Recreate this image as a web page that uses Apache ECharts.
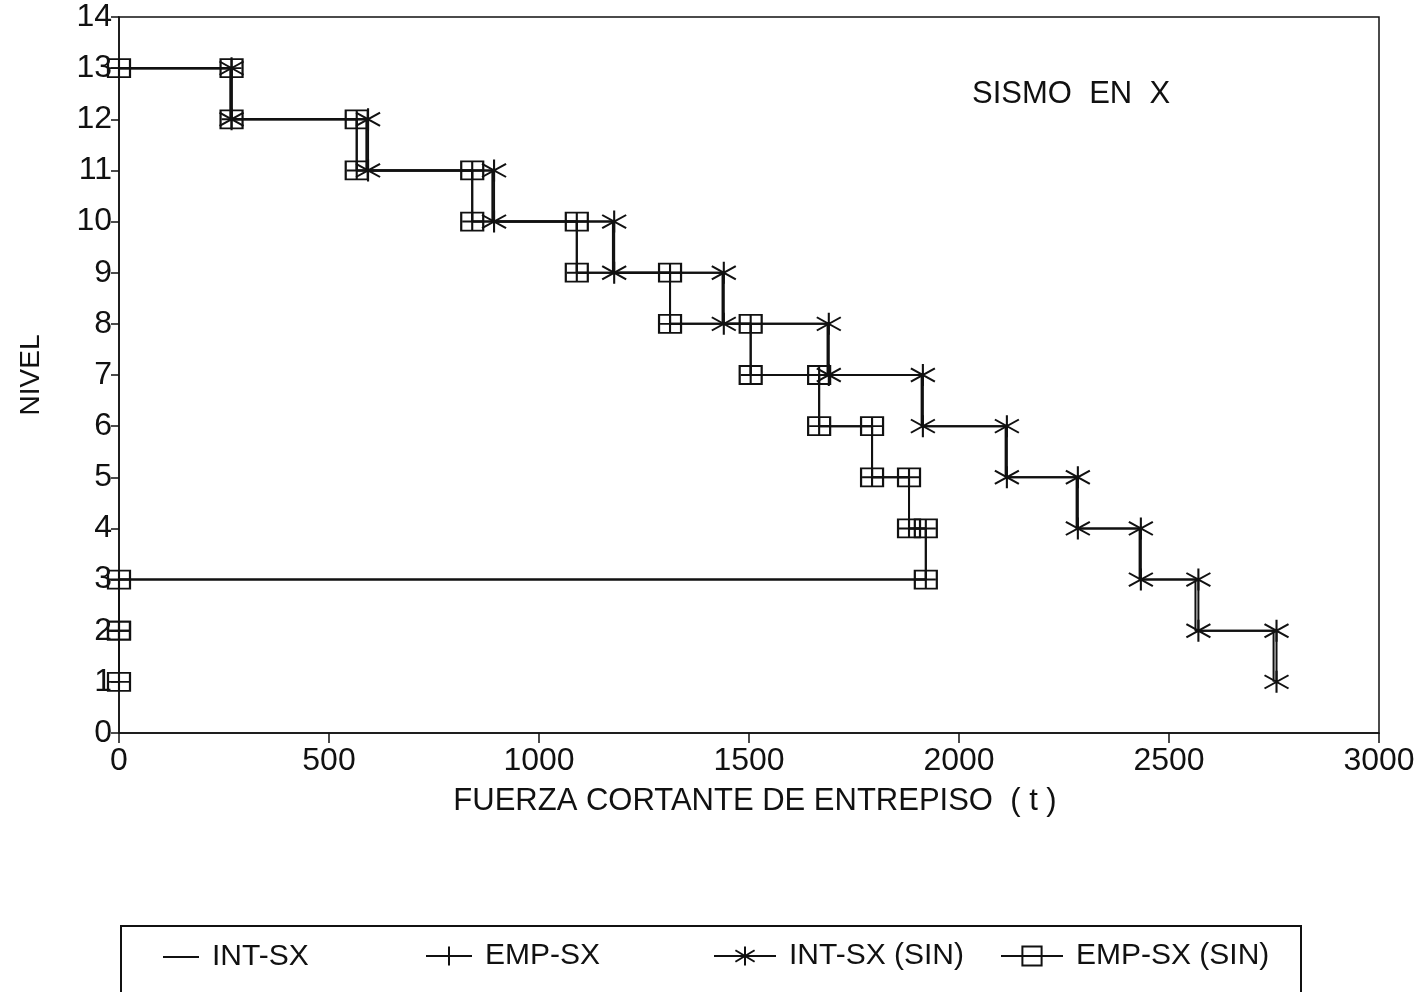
<!DOCTYPE html>
<html>
<head>
<meta charset="utf-8">
<script src="https://cdn.jsdelivr.net/npm/echarts@6/dist/echarts.min.js"></script>
<style>
html,body{margin:0;padding:0;background:#fff;}
#chart{width:1423px;height:992px;}
</style>
</head>
<body>
<div id="chart"></div>
<script>
// Storey top levels (each storey spans from level L down to L-1)
const levelTop = [13, 12, 11, 10, 9, 8, 7, 6, 5, 4, 3, 2];
// Storey shear force (t) per storey
const intSX    = [265, 589, 889, 1176, 1437, 1687, 1911, 2111, 2280, 2430, 2563, 2749];
const empSX    = [268, 566, 841, 1090, 1312, 1504, 1667, 1793, 1881, 1921, 0, 0];
const intSXSin = [268, 593, 893, 1179, 1440, 1690, 1914, 2114, 2283, 2433, 2570, 2756];
const empSXSin = [268, 566, 841, 1090, 1312, 1504, 1667, 1793, 1881, 1921, 0, 0];
const xTicks = [0, 500, 1000, 1500, 2000, 2500, 3000];
const seriesNames = ['INT-SX', 'EMP-SX', 'INT-SX (SIN)', 'EMP-SX (SIN)'];

function stepPoints(vals, hideFirst) {
  const pts = [hideFirst ? { value: [0, levelTop[0]], symbol: 'none' } : [0, levelTop[0]]];
  vals.forEach(function (v, i) {
    pts.push([v, levelTop[i]]);
    pts.push([v, levelTop[i] - 1]);
  });
  return pts;
}

const FONT = 'Liberation Sans, Arial, sans-serif';
const BLACK = '#111';
const PLUS = 'path://M0,10 L20,10 M10,0 L10,20';
const STAR = 'path://M10,0 L10,20 M0,4 L20,16 M0,16 L20,4';

const chart = echarts.init(document.getElementById('chart'));
const legendBase = {
  selectedMode: false,
  padding: 0,
  top: 941,
  itemHeight: 24,
  textStyle: { fontSize: 30, color: BLACK, fontFamily: FONT, padding: [0, 0, 0, 8] }
};
chart.setOption({
  animation: false,
  backgroundColor: '#fff',
  title: {
    text: 'SISMO  EN  X',
    left: 967, top: 74,
    textStyle: { fontSize: 31, fontWeight: 'normal', color: BLACK, fontFamily: FONT }
  },
  grid: { left: 119, right: 44, top: 17, bottom: 259, show: true, borderColor: BLACK, borderWidth: 1.5, backgroundColor: 'transparent' },
  xAxis: {
    type: 'value', min: 0, max: 3000, interval: 500,
    name: 'FUERZA CORTANTE DE ENTREPISO  ( t )',
    nameLocation: 'middle', nameGap: 53,
    nameTextStyle: { fontSize: 31, color: BLACK, fontFamily: FONT, padding: [0, 0, 0, 12] },
    axisLine: { show: true, lineStyle: { color: BLACK, width: 1.5 } },
    axisTick: { show: true, inside: false, length: 10, lineStyle: { color: BLACK, width: 1.5 } },
    axisLabel: { fontSize: 32, color: BLACK, fontFamily: FONT, margin: 12,
      formatter: function (v) { return xTicks.indexOf(v) >= 0 ? String(v) : ''; } },
    splitLine: { show: false }
  },
  yAxis: {
    type: 'value', min: 0, max: 14, interval: 1,
    name: 'NIVEL', nameLocation: 'middle', nameGap: 74, nameRotate: 90,
    nameTextStyle: { fontSize: 28, color: BLACK, fontFamily: FONT },
    axisLine: { show: true, lineStyle: { color: BLACK, width: 1.5 } },
    axisTick: { show: true, inside: false, length: 8, lineStyle: { color: BLACK, width: 1.5 } },
    axisLabel: { fontSize: 32, color: BLACK, fontFamily: FONT, margin: 7 },
    splitLine: { show: false }
  },
  legend: [
    Object.assign({}, legendBase, { data: [seriesNames[0]], left: 163, top: 942, itemWidth: 36, itemHeight: 2, icon: 'rect' }),
    Object.assign({}, legendBase, { data: [seriesNames[1]], left: 425, itemWidth: 46 }),
    Object.assign({}, legendBase, { data: [seriesNames[2]], left: 713, itemWidth: 62 }),
    Object.assign({}, legendBase, { data: [seriesNames[3]], left: 1000, itemWidth: 62 })
  ],
  graphic: [{
    type: 'rect', left: 120, top: 925,
    shape: { width: 1180, height: 90 },
    style: { fill: 'transparent', stroke: BLACK, lineWidth: 2 }
  }],
  series: [
    {
      name: seriesNames[0], type: 'line', z: 2, symbol: 'none',
      lineStyle: { color: BLACK, width: 2 }, itemStyle: { color: BLACK },
      data: stepPoints(intSX, false)
    },
    {
      name: seriesNames[1], type: 'line', z: 5, symbol: PLUS, symbolSize: [20, 18],
      lineStyle: { color: BLACK, width: 2 },
      itemStyle: { color: BLACK, borderColor: BLACK, borderWidth: 2 },
      data: stepPoints(empSX, false)
    },
    {
      name: seriesNames[2], type: 'line', z: 3, symbol: STAR, symbolSize: [24, 22],
      lineStyle: { color: BLACK, width: 2 },
      itemStyle: { color: BLACK, borderColor: BLACK, borderWidth: 2 },
      data: stepPoints(intSXSin, true)
    },
    {
      name: seriesNames[3], type: 'line', z: 4, symbol: 'rect', symbolSize: [22, 18],
      lineStyle: { color: BLACK, width: 2 },
      itemStyle: { color: 'rgba(0,0,0,0)', borderColor: BLACK, borderWidth: 2 },
      data: stepPoints(empSXSin, false)
    }
  ]
});
</script>
</body>
</html>
